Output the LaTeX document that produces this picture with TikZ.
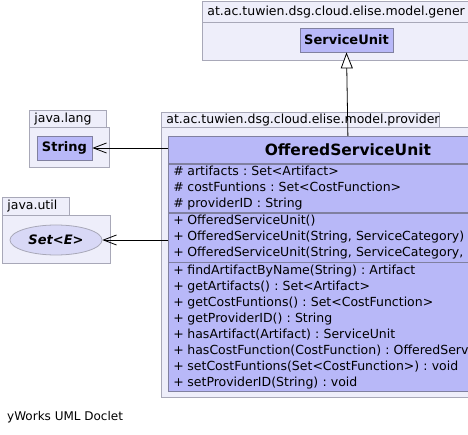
\documentclass[tikz,border=0pt]{standalone}
\usepackage{fontspec}
\setmainfont{DejaVu Sans}
\usepackage{xcolor}
\usetikzlibrary{arrows.meta,positioning,shapes.geometric}

\definecolor{pkgfill}{RGB}{238,238,250}
\definecolor{pkgline}{RGB}{168,168,184}
\definecolor{clsfill}{RGB}{184,184,248}
\definecolor{clsline}{RGB}{128,128,160}
\definecolor{setfill}{RGB}{216,216,246}

\newcommand{\mem}[2]{\makebox[14pt][l]{#1}\mbox{#2}}

\begin{document}
\frenchspacing
\begin{tikzpicture}[
    x=1pt, y=-1pt,
    every node/.style={font=\fontsize{12.5}{16}\selectfont},
    pkgtab/.style={draw=pkgline, line width=0.8pt, fill=pkgfill, anchor=north west, inner xsep=5pt, inner ysep=0pt, align=left, font=\fontsize{12.5}{14}\selectfont},
    pkgbody/.style={draw=pkgline, line width=0.8pt, fill=pkgfill, anchor=north west, inner sep=0pt},
    cls/.style={draw=clsline, line width=0.8pt, fill=clsfill, inner sep=0pt, minimum height=24pt, font=\fontsize{13}{15}\selectfont\bfseries},
    part/.style={draw=clsline, line width=0.8pt, fill=clsfill, anchor=north west, inner xsep=5pt, inner ysep=0pt, text width=349pt, align=left},
    dep/.style={{Straight Barb[length=13pt,width=10pt]}-, line width=0.8pt},
    inh/.style={-{Triangle[open,length=16pt,width=12pt,fill=white]}, line width=0.8pt}
]
\useasboundingbox (0,0) rectangle (468,435);
\clip (0,0) rectangle (468,435);
\fill[white] (0,0) rectangle (468,435);

% Packages
\node[pkgtab, text width=290pt, minimum height=21pt] (gentab) at (202,1) {at.ac.tuwien.dsg.cloud.elise.model.gener};
\node[pkgbody, minimum width=300pt, minimum height=38pt] (genbody) at (202,22) {};
\node[pkgtab, text width=67pt, minimum height=17pt] (langtab) at (29,110) {java.lang};
\node[pkgbody, minimum width=80pt, minimum height=40pt] (langbody) at (29,127) {};
\node[pkgtab, text width=57pt, minimum height=18pt] (utiltab) at (2,197) {java.util};
\node[pkgbody, minimum width=108pt, minimum height=48pt] (utilbody) at (2,215) {};
\node[pkgtab, text width=268pt, minimum height=15pt] (provtab) at (161,112) {at.ac.tuwien.dsg.cloud.elise.model.provider};
\node[pkgbody, minimum width=380pt, minimum height=270pt] (provbody) at (161,127) {};

% Referenced types
\node[cls, minimum width=93pt] (su) at (346.5,40) {ServiceUnit};
\node[cls, minimum width=55pt] (string) at (64.5,148) {String};
\node[ellipse, draw=pkgline, line width=0.8pt, fill=setfill, minimum width=92pt, minimum height=30pt, inner sep=0pt,
      font=\fontsize{13}{15}\selectfont\bfseries\itshape] (set) at (56,240) {Set<E>};

% Class
\node[part, minimum height=27pt, align=center, font=\fontsize{15.5}{17}\selectfont\bfseries] (hdr) at (168,136) {OfferedServiceUnit};
\node[part, minimum height=48pt, below=0pt of hdr] (attrs) {%
\mem{\#}{artifacts : Set<Artifact>}\\
\mem{\#}{costFuntions : Set<CostFunction>}\\
\mem{\#}{providerID : String}};
\node[part, minimum height=49pt, below=0pt of attrs] (ctors) {%
\mem{+}{OfferedServiceUnit()}\\
\mem{+}{OfferedServiceUnit(String, ServiceCategory)}\\
\mem{+}{OfferedServiceUnit(String, ServiceCategory, String)}};
\node[part, minimum height=129pt, below=0pt of ctors] (ops) {%
\mem{+}{findArtifactByName(String) : Artifact}\\
\mem{+}{getArtifacts() : Set<Artifact>}\\
\mem{+}{getCostFuntions() : Set<CostFunction>}\\
\mem{+}{getProviderID() : String}\\
\mem{+}{hasArtifact(Artifact) : ServiceUnit}\\
\mem{+}{hasCostFunction(CostFunction) : OfferedServiceUnit}\\
\mem{+}{setCostFuntions(Set<CostFunction>) : void}\\
\mem{+}{setProviderID(String) : void}};

% Connections
\draw[inh] (hdr.north) -- (su.south);
\draw[dep] (string.east) -- (hdr.west |- string.east);
\draw[dep] (set.east) -- (hdr.west |- set.east);

% Footer
\node[anchor=west, inner sep=0pt, font=\fontsize{12}{14}\selectfont] (doclet) at (7,417) {yWorks UML Doclet};
\end{tikzpicture}
\end{document}
